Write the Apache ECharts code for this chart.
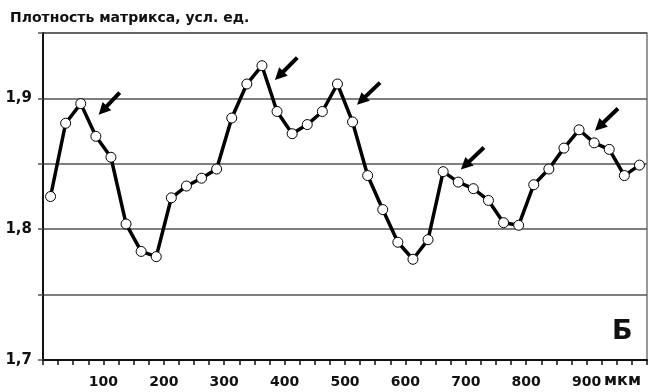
<!DOCTYPE html>
<html>
<head>
<meta charset="utf-8">
<script src="https://cdn.jsdelivr.net/npm/echarts@6/dist/echarts.min.js"></script>
<style>html,body{margin:0;padding:0;background:#fff}#c{width:651px;height:392px}</style>
</head>
<body>
<div id="c"></div>
<script>
var titleText = 'Плотность матрикса, усл. ед.';
var unitText = 'мкм';
var panelLetter = 'Б';

var depth = [12.5, 37.5, 62.5, 87.5, 112.5, 137.5, 162.5, 187.5, 212.5, 237.5,
             262.5, 287.5, 312.5, 337.5, 362.5, 387.5, 412.5, 437.5, 462.5, 487.5,
             512.5, 537.5, 562.5, 587.5, 612.5, 637.5, 662.5, 687.5, 712.5, 737.5,
             762.5, 787.5, 812.5, 837.5, 862.5, 887.5, 912.5, 937.5, 962.5, 987.5];
var density = [1.825, 1.881, 1.896, 1.871, 1.855, 1.804, 1.783, 1.779, 1.824, 1.833,
               1.839, 1.846, 1.885, 1.911, 1.925, 1.890, 1.873, 1.880, 1.890, 1.911,
               1.882, 1.841, 1.815, 1.790, 1.777, 1.792, 1.844, 1.836, 1.831, 1.822,
               1.805, 1.803, 1.834, 1.846, 1.862, 1.876, 1.866, 1.861, 1.841, 1.849];

var arrowTails = [[127, 1.9045], [421, 1.9312], [558, 1.9121], [730, 1.8625], [952, 1.8923]];
var arrowTips  = [[99, 1.8908], [391, 1.9173], [527, 1.8983], [699, 1.8488], [921, 1.8785]];

var yTickLabels = ['1,7', '1,8', '1,9'];
var xTickLabels = ['100', '200', '300', '400', '500', '600', '700', '800', '900'];

var points = depth.map(function (d, i) { return [d, density[i]]; });
var arrowData = arrowTails.map(function (t, i) {
  return [{ coord: t }, { coord: arrowTips[i] }];
});

var fontFam = 'DejaVu Sans';
var chart = echarts.init(document.getElementById('c'), null, { renderer: 'canvas' });
chart.setOption({
  animation: false,
  backgroundColor: '#ffffff',
  grid: { left: 43, right: 4, top: 33, bottom: 32, show: true, borderColor: '#777', borderWidth: 1.5, backgroundColor: 'transparent' },
  title: {
    text: titleText, left: 5, top: 6,
    textStyle: { fontFamily: fontFam, fontSize: 14, fontWeight: 'bold', color: '#111' }
  },
  graphic: [
    { type: 'text', left: 604, top: 373, style: { text: unitText, font: 'bold 16px "DejaVu Sans"', fill: '#111' } },
    { type: 'text', left: 612, top: 318, style: { text: panelLetter, font: 'bold 27px "DejaVu Sans"', fill: '#111' } }
  ],
  xAxis: {
    type: 'value', min: 0, max: 1000, interval: 25,
    axisLine: { show: true, lineStyle: { color: '#111', width: 2 } },
    axisTick: { show: true, length: 5, lineStyle: { color: '#111', width: 1.5 } },
    splitLine: { show: false },
    axisLabel: {
      margin: 15, fontFamily: fontFam, fontSize: 14, fontWeight: 'bold', color: '#111',
      formatter: function (v) {
        var s = String(Math.round(v));
        return xTickLabels.indexOf(s) >= 0 ? s : '';
      }
    }
  },
  yAxis: {
    type: 'value', min: 1.7, max: 1.95, interval: 0.05,
    axisLine: { show: true, lineStyle: { color: '#111', width: 2 } },
    axisTick: { show: true, length: 5, lineStyle: { color: '#555', width: 1.5 } },
    splitLine: { show: true, lineStyle: { color: '#555', width: 1.5 } },
    axisLabel: {
      margin: 11, fontFamily: fontFam, fontSize: 15, fontWeight: 'bold', color: '#111',
      formatter: function (v) {
        var s = v.toFixed(1).replace('.', ',');
        return (Math.abs(v * 10 - Math.round(v * 10)) < 1e-6 && yTickLabels.indexOf(s) >= 0) ? s : '';
      }
    }
  },
  series: [{
    type: 'line',
    data: points,
    symbol: 'circle', symbolSize: 10,
    lineStyle: { color: '#000', width: 3.5 },
    itemStyle: { color: '#fff', borderColor: '#000', borderWidth: 1 },
    z: 3,
    markLine: {
      silent: true, animation: false,
      symbol: ['none', 'triangle'], symbolSize: 12,
      label: { show: false },
      lineStyle: { color: '#000', width: 4, type: 'solid' },
      itemStyle: { color: '#000' },
      data: arrowData
    }
  }]
});
</script>
</body>
</html>
